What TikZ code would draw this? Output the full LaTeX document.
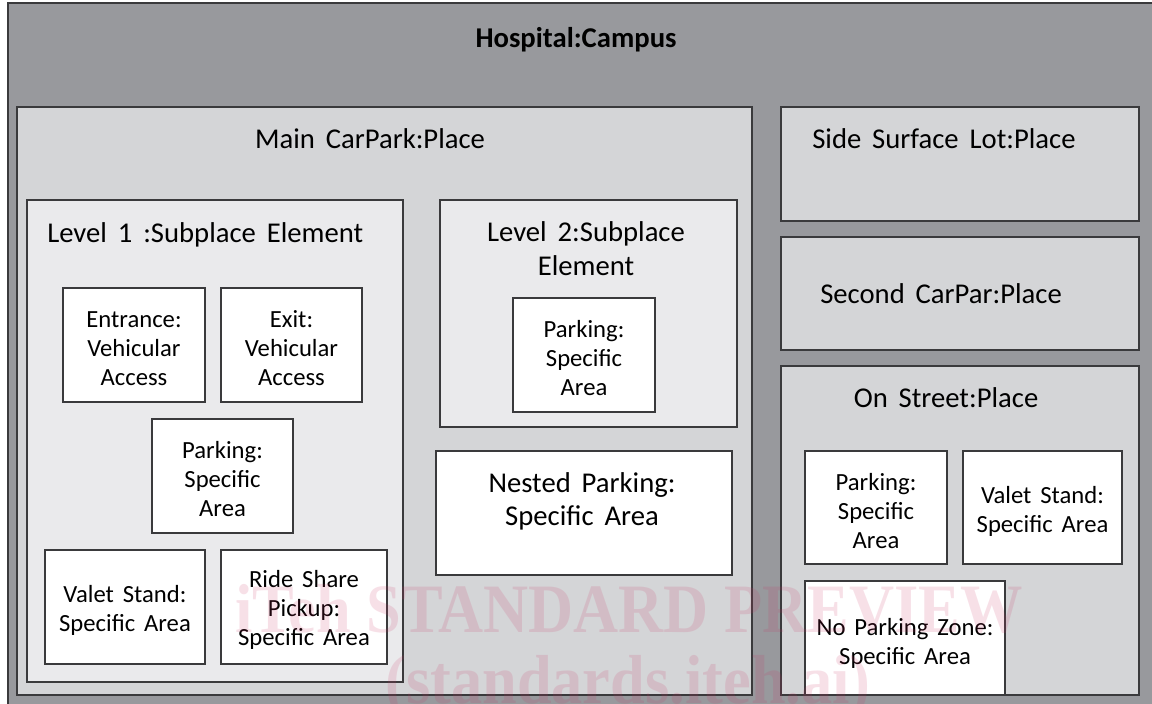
\documentclass[tikz,border=0pt]{standalone}
\usepackage{fontspec}
\setmainfont{Carlito}
\newfontfamily\wmfont{Liberation Serif}
\usepackage{tikz}
\definecolor{edgegray}{HTML}{3A3A3C}
\definecolor{campusgray}{HTML}{98999D}
\definecolor{placegray}{HTML}{D4D5D7}
\definecolor{subgray}{HTML}{EAEAEC}
\definecolor{wmpink}{RGB}{205,50,100}
\newcommand\areafont{\fontsize{18.5}{21.75}\selectfont\spaceskip=0.36em plus 0.1em\relax}
\newcommand\headfont{\fontsize{21.5}{25.5}\selectfont\spaceskip=0.38em plus 0.1em\relax}

\begin{document}
\begin{tikzpicture}[x=0.75pt, y=-0.75pt,
        box/.style={draw=edgegray, line width=1.1pt},
        campus/.style={box, fill=campusgray},
        place/.style={box, fill=placegray},
        subplace/.style={box, fill=subgray},
        area/.style={box, fill=white},
        areatext/.style={align=center, inner sep=0pt, yshift=-2.5pt, font=\areafont},
        headtext/.style={anchor=base, inner sep=0pt, font=\headfont},
        wmtext/.style={anchor=base, inner sep=0pt, text=wmpink, text opacity=0.15,
                       font=\wmfont\bfseries\fontsize{52}{60}\selectfont}
                            ]
        \clip (0,0) rectangle (1152,703);
        \fill[white] (0,0) rectangle (1152,703);
        % campus
        \draw[campus] (8,3) rectangle (1160,712);
        \node[headtext, font=\headfont\bfseries] (campus) at (576,47) {Hospital:Campus};
        % main car park
        \draw[place] (17,107) rectangle (752,695);
        \node[headtext] (maincp) at (370,148) {Main CarPark:Place};
        \draw[subplace] (27,200) rectangle (403,682);
        \node[headtext, anchor=base west] (levone) at (47,242) {Level 1 :Subplace Element};
        \draw[area] (63,288) rectangle (205,402);
        \node[areatext] (entrance) at (134,345) {Entrance:\\Vehicular\\Access};
        \draw[area] (221,288) rectangle (362,402);
        \node[areatext] (exit) at (291.5,345) {Exit:\\Vehicular\\Access};
        \draw[area] (152,419) rectangle (293,533);
        \node[areatext] (parkone) at (222.5,476) {Parking:\\Specific\\Area};
        \draw[area] (45,550) rectangle (205,664);
        \node[areatext] (valetone) at (125,607) {Valet Stand:\\Specific Area};
        \draw[area] (221,550) rectangle (387,664);
        \node[areatext] (ride) at (304,607) {Ride Share\\Pickup:\\Specific Area};
        %
        \draw[subplace] (440,200) rectangle (737,427);
        \node[headtext] (levtwo) at (586,241) {Level 2:Subplace};
        \node[headtext] (levtwob) at (586,275) {Element};
        \draw[area] (513,298) rectangle (655,412);
        \node[areatext] (parktwo) at (584,355) {Parking:\\Specific\\Area};
        \draw[area] (436,451) rectangle (732,575);
        \node[headtext] (nested) at (582,492) {Nested Parking:};
        \node[headtext] (nestedb) at (582,525) {Specific Area};
        % right column
        \draw[place] (781,107) rectangle (1139,221);
        \node[headtext, anchor=base west] (side) at (812,148) {Side Surface Lot:Place};
        \draw[place] (781,237) rectangle (1139,350);
        \node[headtext, anchor=base west] (second) at (820,303) {Second CarPar:Place};
        \draw[place] (781,366) rectangle (1139,695);
        \node[headtext] (street) at (946,407) {On Street:Place};
        \draw[area] (805,451) rectangle (947,564);
        \node[areatext] (parkthree) at (876,508) {Parking:\\Specific\\Area};
        \draw[area] (963,451) rectangle (1122,564);
        \node[areatext] (valetthree) at (1042.5,508) {Valet Stand:\\Specific Area};
        \draw[area] (805,581) rectangle (1005,695);
        \node[areatext] (nopark) at (905,640) {No Parking Zone:\\Specific Area};
        % watermark
        \node[wmtext] (wmone) at (629,632) {\scalebox{0.9}[1]{iTeh STANDARD PREVIEW}};
        \node[wmtext] (wmtwo) at (628,703) {\scalebox{0.9}[1]{(standards.iteh.ai)}};
    \end{tikzpicture}
\end{document}
